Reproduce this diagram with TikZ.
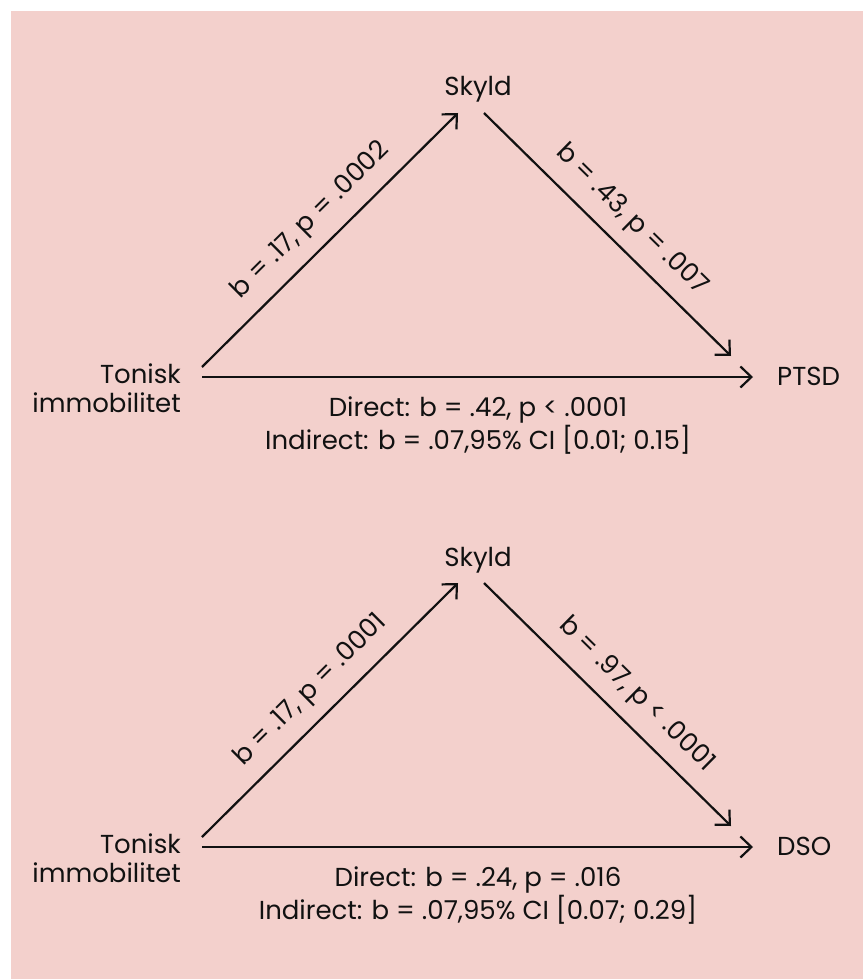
\documentclass[tikz,border=0pt]{standalone}
\usepackage{fontspec}
\setmainfont{Poppins}
\usetikzlibrary{arrows.meta}
\definecolor{bgpink}{HTML}{F3D0CC}
\definecolor{ink}{HTML}{111111}
\begin{document}
\begin{tikzpicture}[x=1pt,y=-1pt,
  lbl/.style={font=\fontsize{26}{29}\selectfont, inner sep=0pt, text=ink},
  conn/.style={draw=ink, line width=2.2pt, -{Straight Barb[length=11pt,width=21pt,line width=2.2pt]}},
  elbl/.style={lbl, sloped, above=13pt}]
\useasboundingbox (0,0) rectangle (863,979);
\fill[white] (0,0) rectangle (863,979);
\fill[bgpink] (11,11) rectangle (863,979);

% ---------- top diagram ----------
\node[lbl, anchor=base] (sk1) at (478,96) {Skyld};
\node[lbl, align=right, anchor=base east] (tn1) at (181,412) {Tonisk\\immobilitet};
\node[lbl, anchor=base west] (pt1) at (777,385) {PTSD};
\node[lbl, align=center, anchor=base] (ef1) at (478,449) {Direct: b = .42, p < .0001\\Indirect: b = .07,95\% CI [0.01; 0.15]};
\coordinate (l1s) at (202,367); \coordinate (l1e) at (458,113);
\coordinate (r1s) at (484,113); \coordinate (r1e) at (731,356);
\coordinate (h1s) at (202,377); \coordinate (h1e) at (753,377);
\draw[conn] (l1s) -- node[elbl, pos=0.5] (la1) {b = .17, p = .0002} (l1e);
\draw[conn] (r1s) -- node[elbl, pos=0.52] (ra1) {b = .43, p = .007} (r1e);
\draw[conn] (h1s) -- (h1e);

% ---------- bottom diagram ----------
\node[lbl, anchor=base] (sk2) at (478,566) {Skyld};
\node[lbl, align=right, anchor=base east] (tn2) at (181,882) {Tonisk\\immobilitet};
\node[lbl, anchor=base west] (ds2) at (777,855) {DSO};
\node[lbl, align=center, anchor=base] (ef2) at (478,919) {Direct: b = .24, p = .016\\Indirect: b = .07,95\% CI [0.07; 0.29]};
\coordinate (l2s) at (202,837); \coordinate (l2e) at (458,583);
\coordinate (r2s) at (484,583); \coordinate (r2e) at (731,826);
\coordinate (h2s) at (202,847); \coordinate (h2e) at (753,847);
\draw[conn] (l2s) -- node[elbl, pos=0.5] (la2) {b = .17, p = .0001} (l2e);
\draw[conn] (r2s) -- node[elbl, pos=0.54] (ra2) {b = .97, p < .0001} (r2e);
\draw[conn] (h2s) -- (h2e);
\end{tikzpicture}
\end{document}
